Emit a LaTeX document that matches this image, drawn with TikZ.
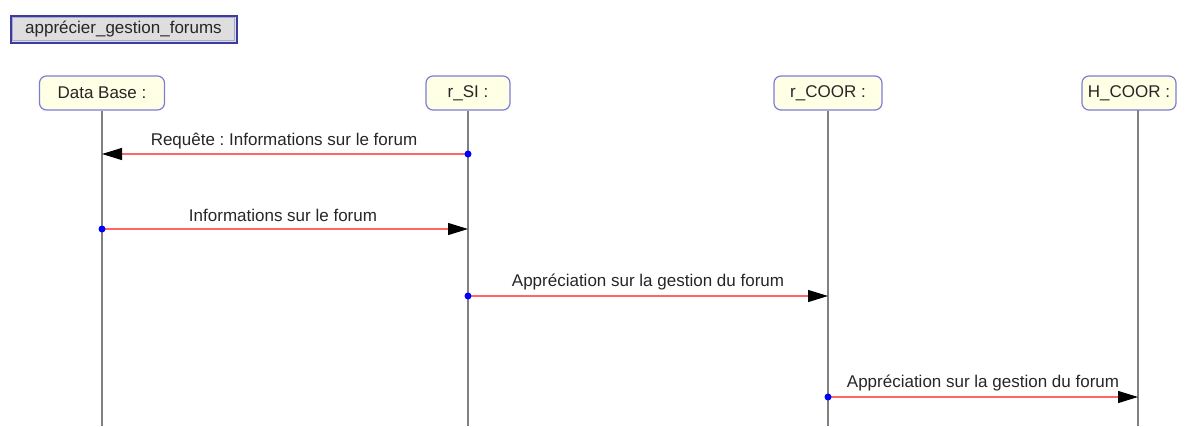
\documentclass[tikz,border=0pt]{standalone}
\usepackage{fontspec}
\setmainfont{Liberation Sans}
\usetikzlibrary{arrows.meta}
\frenchspacing
\definecolor{titlefill}{HTML}{DEDEDE}
\definecolor{titledraw}{HTML}{3C3CA0}
\definecolor{objfill}{HTML}{FFFFE6}
\definecolor{objdraw}{HTML}{7C7CD8}
\definecolor{lifegray}{HTML}{808080}
\definecolor{msgred}{HTML}{FF6666}
\definecolor{dotblue}{HTML}{0000FF}
\tikzset{
  txt/.style={font=\fontsize{17}{20}\selectfont, text=black!85},
  titlebox/.style={txt, draw=titledraw, line width=2pt, fill=titlefill, minimum width=226pt, minimum height=27pt, inner sep=0pt},
  objbox/.style={txt, draw=objdraw, line width=1.2pt, fill=objfill, rounded corners=7pt, minimum height=34pt, inner sep=0pt},
  lifeline/.style={draw=lifegray, line width=1.6pt},
  msg/.style={draw=msgred, line width=1.3pt, -{Triangle[length=20pt,width=12pt,color=black]}},
  msglabel/.style={txt, inner sep=0pt},
  srcdot/.style={circle, fill=dotblue, inner sep=0pt, minimum size=7pt}
}
\begin{document}
\begin{tikzpicture}[x=1pt,y=-1pt]
\useasboundingbox (0,0) rectangle (1192,426);
\node[titlebox] (title) at (123.5,29) {apprécier\_gestion\_forums};
\draw[white!55!titledraw, line width=0.7pt] ([shift={(3pt,-3pt)}]title.north west) rectangle ([shift={(-3pt,3pt)}]title.south east);
\node[objbox, minimum width=125pt] (db) at (102,93) {Data Base :};
\node[objbox, minimum width=84pt] (si) at (468,93) {r\_SI :};
\node[objbox, minimum width=108pt] (coor) at (828,93) {r\_COOR :};
\node[objbox, minimum width=94pt] (hcoor) at (1129,93) {H\_COOR :};
\coordinate (dbend) at (102,426);
\coordinate (siend) at (468,426);
\coordinate (coorend) at (828,426);
\coordinate (hcoortop) at (1138,110);
\coordinate (hcoorend) at (1138,426);
\draw[lifeline] (db.south) -- (dbend);
\draw[lifeline] (si.south) -- (siend);
\draw[lifeline] (coor.south) -- (coorend);
\draw[lifeline] (hcoortop) -- (hcoorend);
% messages
\coordinate (m1s) at (468,154); \coordinate (m1e) at (102,154);
\coordinate (m2s) at (102,229); \coordinate (m2e) at (468,229);
\coordinate (m3s) at (468,296); \coordinate (m3e) at (828,296);
\coordinate (m4s) at (828,397); \coordinate (m4e) at (1138,397);
\draw[msg] (m1s) -- (m1e);
\draw[msg] (m2s) -- (m2e);
\draw[msg] (m3s) -- (m3e);
\draw[msg] (m4s) -- (m4e);
\node[srcdot] (d1) at (m1s) {};
\node[srcdot] (d2) at (m2s) {};
\node[srcdot] (d3) at (m3s) {};
\node[srcdot] (d4) at (m4s) {};
\node[msglabel] (l1) at (284,141) {Requête : Informations sur le forum};
\node[msglabel] (l2) at (283,215) {Informations sur le forum};
\node[msglabel] (l3) at (648,282) {Appréciation sur la gestion du forum};
\node[msglabel] (l4) at (983,383) {Appréciation sur la gestion du forum};
\end{tikzpicture}
\end{document}
